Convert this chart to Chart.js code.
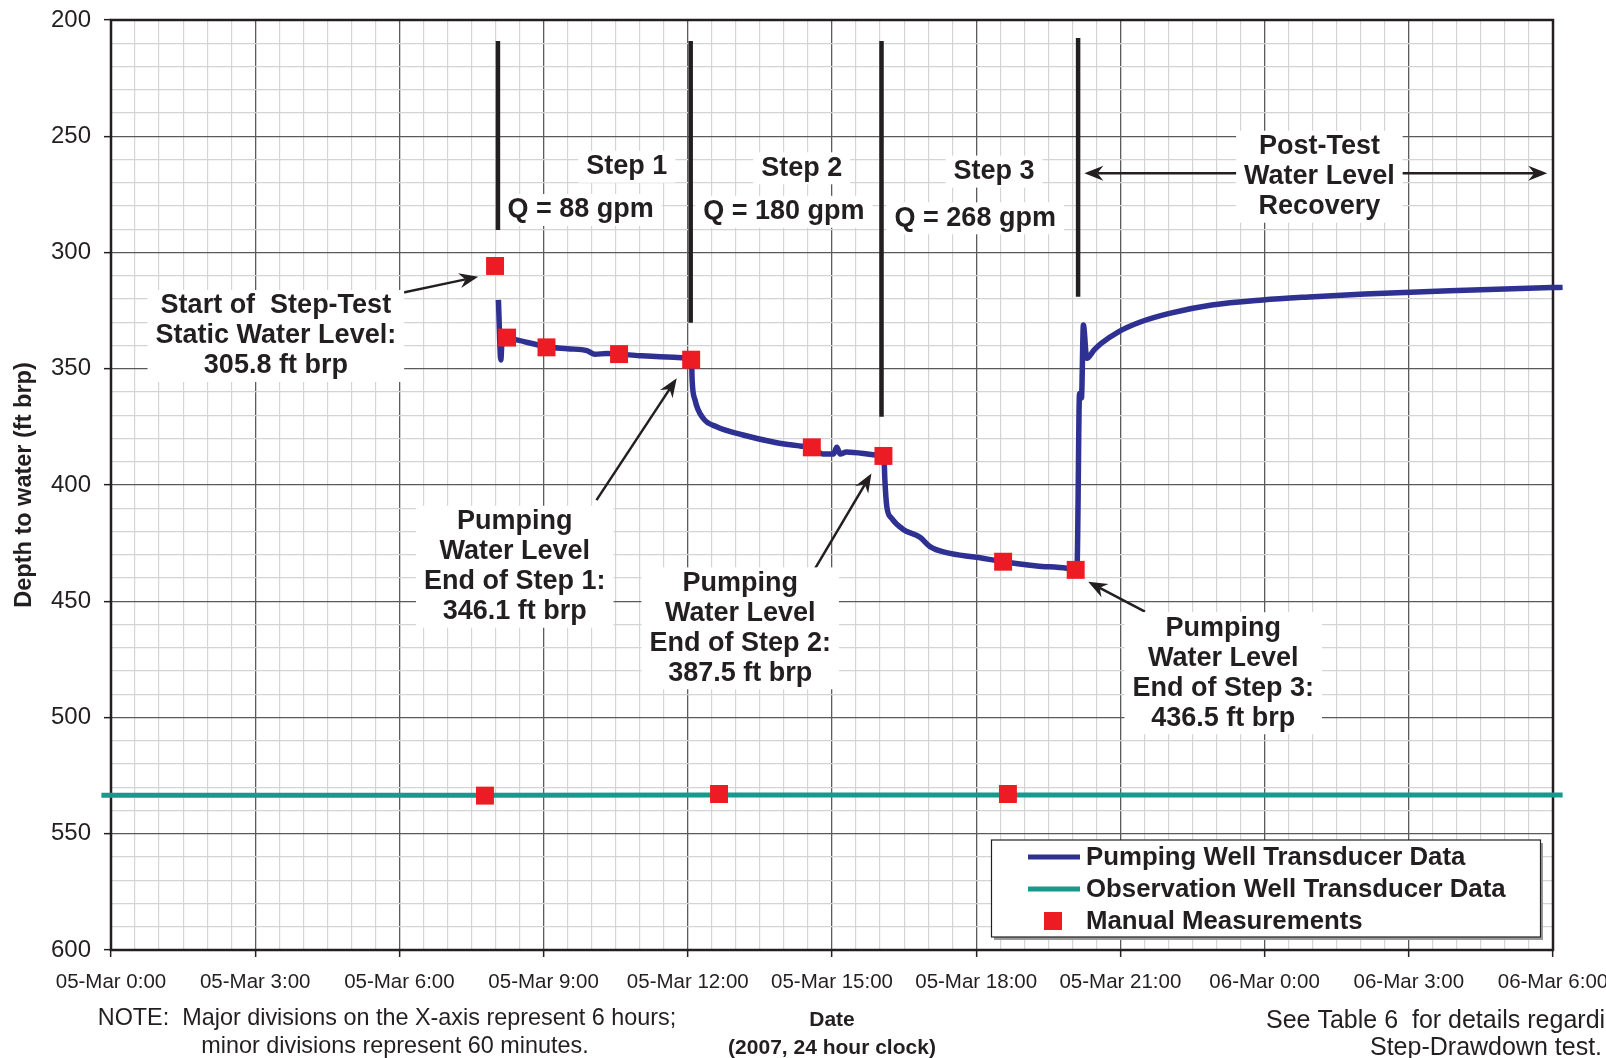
<!DOCTYPE html>
<html>
<head>
<meta charset="utf-8">
<title>Step-Drawdown Test</title>
<script src="https://cdn.jsdelivr.net/npm/chart.js@4.4.1/dist/chart.umd.min.js"></script>
<style>
  html, body { margin: 0; padding: 0; background: #fff; }
  #wrap { width: 1606px; height: 1058px; position: relative; }
</style>
</head>
<body>
<div id="wrap"><canvas id="stepChart"></canvas></div>
<script>
// x values are hours since 05-Mar 0:00, y values are depth to water (ft brp)
const pumpHours = [8.06, 8.11, 8.14, 8.24, 8.44, 9.06, 9.5, 9.9, 10.07, 10.31, 10.57, 11.0, 11.7, 12.06,
  12.08, 12.09, 12.15, 12.32, 12.6, 13.15, 13.85, 14.33, 14.58, 14.82, 15.03, 15.1, 15.17, 15.3, 15.86, 16.06,
  16.08, 16.1, 16.14, 16.24, 16.48, 16.83, 17.04, 17.38, 18.01, 18.56, 19.26, 19.88, 20.07,
  20.1, 20.15, 20.19, 20.23, 20.3, 20.45, 20.6, 20.96, 21.4, 22.02, 22.9, 23.96, 25.02, 26.08, 27.85, 29.97, 30.2];
const pumpDepth = [320.4, 346.2, 336.8, 336.8, 337.6, 340.5, 341.4, 342.2, 343.8, 343.4, 343.7, 344.4, 345.1, 346.0,
  347.7, 354.8, 363.4, 371.3, 374.9, 378.5, 381.8, 383.2, 383.8, 386.7, 386.7, 383.8, 386.7, 385.8, 387.0, 387.5,
  387.8, 397.8, 409.3, 414.3, 419.1, 422.5, 426.5, 429.1, 431.1, 433.0, 434.8, 435.8, 436.6,
  434.0, 360.6, 362.5, 331.2, 345.5, 342.0, 339.1, 334.1, 330.0, 326.2, 322.6, 320.4, 319.0, 317.8, 316.4, 315.1, 315.0];

const obsHours = [-0.2, 7.78, 12.65, 18.66, 30.2];
const obsDepth = [533.4, 533.4, 533.3, 533.3, 533.3];

const manualHours = [7.99, 8.24, 9.06, 10.57, 12.07, 14.58, 16.07, 18.56, 20.07, 7.78, 12.65, 18.66];
const manualDepth = [305.8, 336.6, 340.8, 343.7, 346.1, 383.8, 387.5, 433.0, 436.5, 533.6, 532.9, 532.9];

const stepHours = [8.05, 12.06, 16.03, 20.12];
const stepTop = [209, 209, 209, 207.7];
const stepBottom = [290.3, 330.2, 370.6, 319.0];

const xTickLabels = ['05-Mar 0:00', '05-Mar 3:00', '05-Mar 6:00', '05-Mar 9:00', '05-Mar 12:00', '05-Mar 15:00',
  '05-Mar 18:00', '05-Mar 21:00', '06-Mar 0:00', '06-Mar 3:00', '06-Mar 6:00'];
const yTickLabels = [200, 250, 300, 350, 400, 450, 500, 550, 600];

const FONT = "'Liberation Sans', Arial, Helvetica, sans-serif";
const INK = '#231F20';
const PUMP = '#2E3192';
const OBS = '#17998C';
const RED = '#ED1C24';

// text callouts, anchored at the centre of their first line (data units)
const notes = [
  { x: 3.43, y: 323.0, lines: ['Start of  Step-Test', 'Static Water Level:', '305.8 ft brp'] },
  { x: 10.73, y: 263.1, lines: ['Step 1'] },
  { x: 9.77, y: 281.7, lines: ['Q = 88 gpm'] },
  { x: 14.37, y: 263.8, lines: ['Step 2'] },
  { x: 14.0, y: 282.5, lines: ['Q = 180 gpm'] },
  { x: 18.37, y: 265.2, lines: ['Step 3'] },
  { x: 17.98, y: 285.3, lines: ['Q = 268 gpm'] },
  { x: 25.14, y: 254.5, lines: ['Post-Test', 'Water Level', 'Recovery'] },
  { x: 8.40, y: 415.8, lines: ['Pumping', 'Water Level', 'End of Step 1:', '346.1 ft brp'] },
  { x: 13.09, y: 442.3, lines: ['Pumping', 'Water Level', 'End of Step 2:', '387.5 ft brp'] },
  { x: 23.14, y: 461.6, lines: ['Pumping', 'Water Level', 'End of Step 3:', '436.5 ft brp'] }
];
const arrows = [
  { from: [5.84, 318.3], to: [7.64, 310.4] },
  { from: [10.10, 406.5], to: [11.77, 354.1] },
  { from: [14.61, 437.3], to: [15.82, 395.0] },
  { from: [21.51, 454.5], to: [20.33, 441.6] },
  { from: [25.14, 265.9], to: [20.25, 265.9] },
  { from: [25.14, 265.9], to: [29.88, 265.9] }
];

function pairs(xs, ys) {
  return xs.map((x, i) => ({ x: x, y: ys[i] }));
}

function drawArrow(ctx, x1, y1, x2, y2) {
  const a = Math.atan2(y2 - y1, x2 - x1);
  const c = Math.cos(a), s = Math.sin(a);
  const len = 19, half = 7.5, notch = 13;
  ctx.beginPath();
  ctx.moveTo(x1, y1);
  ctx.lineTo(x2 - c * notch, y2 - s * notch);
  ctx.stroke();
  ctx.beginPath();
  ctx.moveTo(x2, y2);
  ctx.lineTo(x2 - len * c + half * s, y2 - len * s - half * c);
  ctx.lineTo(x2 - notch * c, y2 - notch * s);
  ctx.lineTo(x2 - len * c - half * s, y2 - len * s + half * c);
  ctx.closePath();
  ctx.fill();
}

const calloutPlugin = {
  id: 'callouts',
  beforeDatasetsDraw(chart) {
    const { ctx, chartArea: ca, scales: { x, y } } = chart;
    ctx.save();
    // arrows
    ctx.strokeStyle = INK;
    ctx.fillStyle = INK;
    ctx.lineWidth = 2.5;
    arrows.forEach(a => {
      drawArrow(ctx, x.getPixelForValue(a.from[0]), y.getPixelForValue(a.from[1]),
        x.getPixelForValue(a.to[0]), y.getPixelForValue(a.to[1]));
    });
    // boxed text
    ctx.font = 'bold 27px ' + FONT;
    ctx.textAlign = 'center';
    ctx.textBaseline = 'middle';
    const lh = 30;
    notes.forEach(n => {
      const cx = x.getPixelForValue(n.x), cy = y.getPixelForValue(n.y);
      const w = Math.max(...n.lines.map(t => ctx.measureText(t).width));
      ctx.fillStyle = '#fff';
      ctx.fillRect(cx - w / 2 - 8, cy - 16, w + 16, (n.lines.length - 1) * lh + 32);
      ctx.fillStyle = INK;
      n.lines.forEach((t, i) => ctx.fillText(t, cx, cy + i * lh));
    });
    // plot frame
    ctx.strokeStyle = INK;
    ctx.lineWidth = 2.5;
    ctx.strokeRect(ca.left, ca.top, ca.right - ca.left, ca.bottom - ca.top);
    ctx.restore();
  },
  afterDatasetsDraw(chart) {
    // legend box in the lower right of the plot
    const { ctx } = chart;
    const items = chart.data.datasets.filter(d => d.label);
    ctx.save();
    ctx.fillStyle = '#9a9a9a';
    ctx.fillRect(994, 843, 549, 97);
    ctx.fillStyle = '#fff';
    ctx.fillRect(991.5, 840, 549, 97);
    ctx.strokeStyle = INK;
    ctx.lineWidth = 1.2;
    ctx.strokeRect(991.5, 840, 549, 97);
    ctx.font = 'bold 25.8px ' + FONT;
    ctx.textAlign = 'left';
    ctx.textBaseline = 'middle';
    items.forEach((d, i) => {
      const yy = 857 + i * 32;
      if (d.showLine) {
        ctx.strokeStyle = d.borderColor;
        ctx.lineWidth = 5;
        ctx.beginPath();
        ctx.moveTo(1028, yy);
        ctx.lineTo(1080, yy);
        ctx.stroke();
      } else {
        ctx.fillStyle = d.backgroundColor;
        ctx.fillRect(1044, yy - 9, 18, 18);
      }
      ctx.fillStyle = INK;
      ctx.fillText(d.label, 1086, yy + 1);
    });
    ctx.restore();
  },
  afterDraw(chart) {
    const { ctx } = chart;
    ctx.save();
    ctx.fillStyle = INK;
    ctx.textBaseline = 'middle';
    ctx.font = '23.4px ' + FONT;
    ctx.textAlign = 'center';
    ctx.fillText('NOTE:  Major divisions on the X-axis represent 6 hours;', 387, 1019);
    ctx.fillText('minor divisions represent 60 minutes.', 395, 1047);
    ctx.textAlign = 'left';
    ctx.font = '25px ' + FONT;
    ctx.fillText('See Table 6  for details regarding', 1266, 1021);
    ctx.fillText('Step-Drawdown test.', 1370, 1048);
    ctx.restore();
  }
};

const datasets = [
  {
    label: 'Pumping Well Transducer Data',
    data: pairs(pumpHours, pumpDepth),
    showLine: true,
    borderColor: PUMP,
    backgroundColor: PUMP,
    borderWidth: 5.5,
    pointRadius: 0,
    cubicInterpolationMode: 'monotone',
    clip: false,
    order: 1
  },
  {
    label: 'Observation Well Transducer Data',
    data: pairs(obsHours, obsDepth),
    showLine: true,
    borderColor: OBS,
    backgroundColor: OBS,
    borderWidth: 5,
    pointRadius: 0,
    clip: false,
    order: 2
  },
  {
    label: 'Manual Measurements',
    data: pairs(manualHours, manualDepth),
    showLine: false,
    pointStyle: 'rect',
    pointRadius: 12.7,
    borderWidth: 0,
    backgroundColor: RED,
    borderColor: RED,
    order: 0
  }
];
stepHours.forEach((h, i) => {
  datasets.push({
    label: '',
    data: [{ x: h, y: stepTop[i] }, { x: h, y: stepBottom[i] }],
    showLine: true,
    borderColor: INK,
    borderWidth: 4.5,
    pointRadius: 0,
    order: 3
  });
});

Chart.defaults.font.family = FONT;
Chart.defaults.color = INK;

new Chart(document.getElementById('stepChart'), {
  type: 'scatter',
  data: { datasets: datasets },
  options: {
    responsive: true,
    maintainAspectRatio: false,
    animation: false,
    layout: { padding: { top: 20, right: 53, left: 0, bottom: 0 } },
    plugins: {
      legend: { display: false },
      tooltip: { enabled: false }
    },
    scales: {
      x: {
        type: 'linear',
        min: 0,
        max: 30,
        afterFit: s => { s.height = 108; s.paddingLeft = 0; s.paddingRight = 0; },
        border: { display: false },
        grid: {
          color: c => (c.tick && c.tick.value % 3 === 0) ? '#5a5a5a' : '#d4d4d4',
          lineWidth: c => (c.tick && c.tick.value % 3 === 0) ? 1.3 : 1.2,
          tickColor: c => (c.tick && c.tick.value % 3 === 0) ? INK : 'rgba(0,0,0,0)',
          tickLength: 7,
          tickWidth: 1.5
        },
        ticks: {
          stepSize: 0.5,
          autoSkip: false,
          maxRotation: 0,
          padding: 13,
          font: { size: 20.5 },
          callback: v => (v % 3 === 0) ? xTickLabels[v / 3] : ''
        },
        title: {
          display: true,
          text: ['Date', '(2007, 24 hour clock)'],
          font: { size: 21, weight: 'bold', lineHeight: 1.333 },
          padding: { top: 0, bottom: -4 }
        }
      },
      y: {
        type: 'linear',
        reverse: true,
        min: 200,
        max: 600,
        afterFit: s => { s.width = 111; s.paddingTop = 0; s.paddingBottom = 0; },
        border: { display: false },
        grid: {
          color: c => (c.tick && c.tick.value % 50 === 0) ? '#5a5a5a' : '#d4d4d4',
          lineWidth: c => (c.tick && c.tick.value % 50 === 0) ? 1.3 : 1.2,
          tickColor: c => (c.tick && c.tick.value % 50 === 0) ? INK : 'rgba(0,0,0,0)',
          tickLength: 7,
          tickWidth: 1.5
        },
        ticks: {
          stepSize: 10,
          autoSkip: false,
          padding: 13,
          font: { size: 24 },
          callback: v => yTickLabels.includes(v) ? String(v) : ''
        },
        title: {
          display: true,
          text: 'Depth to water (ft brp)',
          font: { size: 23.5, weight: 'bold' },
          padding: { top: 10, bottom: 0 }
        }
      }
    }
  },
  plugins: [calloutPlugin]
});
</script>
</body>
</html>
